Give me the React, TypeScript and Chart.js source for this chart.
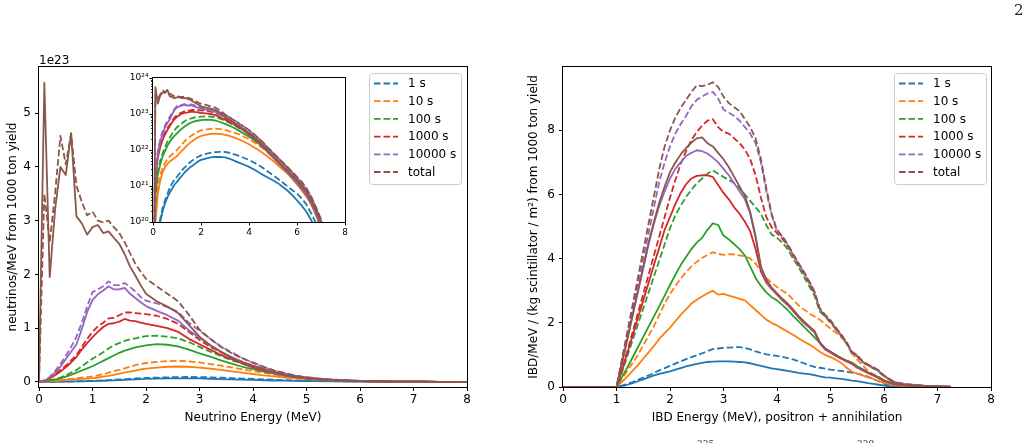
import { useEffect, useRef } from 'react';
import { Chart, registerables } from 'chart.js';

Chart.register(...registerables);

const FONT = "'DejaVu Sans', 'Liberation Sans', sans-serif";
const SERIF = "'DejaVu Serif', 'Liberation Serif', serif";

const SERIES_LABELS = ['1 s', '10 s', '100 s', '1000 s', '10000 s', 'total'];
const SERIES_COLORS = ['#1f77b4', '#ff7f0e', '#2ca02c', '#d62728', '#9467bd', '#8c564b'];

const NU_X_TICKS = [0, 1, 2, 3, 4, 5, 6, 7, 8];
const NU_Y_TICKS = [0, 1, 2, 3, 4, 5];
const INSET_X_TICKS = [0, 2, 4, 6, 8];
const INSET_Y_EXPONENTS = [20, 21, 22, 23, 24];
const IBD_X_TICKS = [0, 1, 2, 3, 4, 5, 6, 7, 8];
const IBD_Y_TICKS = [0, 2, 4, 6, 8];

// neutrino spectra are stored in units of 1e23 neutrinos/MeV
const NU_UNIT = 1e23;

// neutrino energy grid (MeV)
const NU_E = [0, 0.1, 0.2, 0.3, 0.4, 0.5, 0.6, 0.7, 0.8, 0.9, 1.0, 1.1, 1.2, 1.3, 1.4, 1.5, 1.6, 1.7, 1.8, 1.9, 2.0,
  2.2, 2.4, 2.6, 2.8, 3.0, 3.2, 3.4, 3.6, 3.8, 4.0, 4.2, 4.4, 4.6, 4.8, 5.0, 5.2, 5.4, 5.6, 5.8, 6.0,
  6.2, 6.4, 6.6, 6.8, 7.0, 7.2, 7.5, 8.0];

const nu1sSolid = [0, 0.0001, 0.0004, 0.001, 0.002, 0.0033, 0.0048, 0.0066, 0.0085, 0.011, 0.013,
  0.016, 0.019, 0.023, 0.027, 0.031, 0.035, 0.039, 0.044, 0.049, 0.053,
  0.058, 0.062, 0.064, 0.064, 0.062, 0.057, 0.05, 0.044, 0.039, 0.034,
  0.029, 0.024, 0.02, 0.017, 0.0145, 0.012, 0.0095, 0.0075, 0.0056, 0.004,
  0.0028, 0.0019, 0.0011, 0.0006, 0.0003, 0.0001, 0.00005, 0];
const nu1sDashed = [0, 0.0002, 0.0006, 0.0012, 0.0025, 0.004, 0.006, 0.009, 0.012, 0.015, 0.018,
  0.022, 0.027, 0.032, 0.037, 0.043, 0.049, 0.055, 0.061, 0.066, 0.071,
  0.078, 0.083, 0.087, 0.089, 0.088, 0.083, 0.076, 0.068, 0.06, 0.053,
  0.045, 0.038, 0.031, 0.025, 0.02, 0.016, 0.0125, 0.0098, 0.0077, 0.0062,
  0.0045, 0.003, 0.0017, 0.0009, 0.0004, 0.0002, 0.0001, 0];
const nu10sSolid = [0, 0.001, 0.006, 0.014, 0.024, 0.033, 0.041, 0.048, 0.054, 0.06, 0.067,
  0.08, 0.095, 0.11, 0.13, 0.15, 0.17, 0.19, 0.21, 0.23, 0.245,
  0.265, 0.28, 0.285, 0.28, 0.265, 0.245, 0.22, 0.195, 0.17, 0.145,
  0.12, 0.1, 0.08, 0.064, 0.05, 0.038, 0.029, 0.022, 0.016, 0.011,
  0.0075, 0.005, 0.003, 0.0015, 0.0007, 0.0003, 0.0001, 0];
const nu10sDashed = [0, 0.0015, 0.009, 0.02, 0.032, 0.044, 0.055, 0.066, 0.077, 0.088, 0.1,
  0.12, 0.14, 0.17, 0.2, 0.22, 0.25, 0.28, 0.31, 0.33, 0.35,
  0.37, 0.385, 0.39, 0.38, 0.36, 0.33, 0.3, 0.27, 0.23, 0.2,
  0.165, 0.135, 0.108, 0.085, 0.066, 0.05, 0.038, 0.028, 0.02, 0.015,
  0.0105, 0.007, 0.0044, 0.0022, 0.001, 0.0004, 0.0001, 0];
const nu100sSolid = [0, 0.005, 0.02, 0.04, 0.065, 0.095, 0.13, 0.17, 0.21, 0.25, 0.29,
  0.34, 0.39, 0.44, 0.49, 0.54, 0.58, 0.61, 0.64, 0.66, 0.68,
  0.7, 0.69, 0.66, 0.6, 0.53, 0.47, 0.4, 0.34, 0.28, 0.235,
  0.19, 0.15, 0.115, 0.087, 0.064, 0.047, 0.034, 0.025, 0.018, 0.013,
  0.009, 0.0058, 0.0034, 0.0016, 0.0007, 0.0003, 0.0001, 0];
const nu100sDashed = [0, 0.008, 0.025, 0.05, 0.08, 0.12, 0.17, 0.22, 0.29, 0.36, 0.43,
  0.49, 0.55, 0.62, 0.68, 0.72, 0.76, 0.79, 0.81, 0.83, 0.85,
  0.86, 0.84, 0.81, 0.74, 0.65, 0.56, 0.48, 0.4, 0.34, 0.28,
  0.23, 0.18, 0.14, 0.105, 0.078, 0.058, 0.043, 0.031, 0.022, 0.016,
  0.011, 0.007, 0.0042, 0.002, 0.0009, 0.0003, 0.0001, 0];
const nu1000sSolid = [0, 0.015, 0.06, 0.12, 0.19, 0.27, 0.36, 0.46, 0.6, 0.72, 0.83,
  0.93, 1.02, 1.08, 1.09, 1.12, 1.17, 1.14, 1.13, 1.1, 1.08,
  1.04, 1.0, 0.93, 0.8, 0.7, 0.6, 0.5, 0.42, 0.34, 0.27,
  0.21, 0.16, 0.12, 0.085, 0.062, 0.045, 0.033, 0.024, 0.017, 0.012,
  0.0085, 0.0055, 0.0032, 0.0017, 0.0008, 0.0003, 0.0001, 0];
const nu1000sDashed = [0, 0.02, 0.07, 0.14, 0.22, 0.3, 0.4, 0.5, 0.65, 0.8, 0.93,
  1.03, 1.1, 1.18, 1.19, 1.24, 1.29, 1.29, 1.28, 1.27, 1.26,
  1.23, 1.17, 1.08, 0.93, 0.78, 0.65, 0.55, 0.45, 0.37, 0.3,
  0.24, 0.18, 0.14, 0.105, 0.078, 0.058, 0.043, 0.032, 0.023, 0.016,
  0.011, 0.0075, 0.0045, 0.0022, 0.001, 0.0004, 0.0001, 0];
const nu10000sSolid = [0, 0.02, 0.08, 0.17, 0.28, 0.42, 0.56, 0.7, 0.98, 1.3, 1.52,
  1.63, 1.7, 1.78, 1.72, 1.72, 1.75, 1.64, 1.56, 1.48, 1.41,
  1.32, 1.24, 1.14, 0.96, 0.82, 0.68, 0.56, 0.46, 0.37, 0.3,
  0.23, 0.165, 0.12, 0.085, 0.062, 0.045, 0.033, 0.024, 0.017, 0.012,
  0.0085, 0.0058, 0.0034, 0.0018, 0.0009, 0.0003, 0.0001, 0];
const nu10000sDashed = [0, 0.025, 0.09, 0.2, 0.33, 0.48, 0.65, 0.84, 1.1, 1.4, 1.67,
  1.72, 1.78, 1.87, 1.8, 1.8, 1.84, 1.77, 1.68, 1.58, 1.51,
  1.46, 1.39, 1.3, 1.1, 0.95, 0.8, 0.66, 0.55, 0.44, 0.35,
  0.27, 0.21, 0.155, 0.113, 0.083, 0.061, 0.045, 0.033, 0.024, 0.017,
  0.012, 0.008, 0.0048, 0.0024, 0.0011, 0.0004, 0.0001, 0];
const nuTotalSolid = [0, 5.57, 1.95, 3.2, 4.0, 3.85, 4.63, 3.08, 2.95, 2.74, 2.88,
  2.92, 2.77, 2.8, 2.68, 2.57, 2.38, 2.15, 1.98, 1.8, 1.64,
  1.5, 1.4, 1.28, 1.06, 0.84, 0.68, 0.56, 0.45, 0.36, 0.29,
  0.235, 0.17, 0.125, 0.09, 0.065, 0.048, 0.035, 0.026, 0.019, 0.014,
  0.0098, 0.0065, 0.0038, 0.002, 0.001, 0.0004, 0.0001, 0];
const nuTotalDashed = [0, 3.5, 2.6, 3.5, 4.58, 4.05, 4.62, 3.65, 3.35, 3.1, 3.17,
  3.0, 2.97, 3.0, 2.88, 2.77, 2.6, 2.4, 2.2, 2.05, 1.92,
  1.78, 1.64, 1.5, 1.25, 0.97, 0.8, 0.65, 0.53, 0.44, 0.36,
  0.28, 0.21, 0.16, 0.115, 0.085, 0.062, 0.046, 0.034, 0.025, 0.018,
  0.013, 0.0085, 0.005, 0.0025, 0.0012, 0.0005, 0.0001, 0];

// IBD energy grid (MeV)
const IBD_E = [0, 1.0, 1.1, 1.2, 1.3, 1.4, 1.5, 1.6, 1.7, 1.8, 1.9, 2.0, 2.1, 2.2, 2.3, 2.4, 2.5, 2.6, 2.7, 2.8, 2.9, 3.0,
  3.1, 3.2, 3.3, 3.4, 3.5, 3.6, 3.7, 3.8, 3.9, 4.0, 4.1, 4.2, 4.3, 4.4, 4.5, 4.6, 4.7, 4.8, 4.9, 5.0,
  5.1, 5.2, 5.3, 5.4, 5.5, 5.6, 5.7, 5.8, 5.9, 6.0, 6.2, 6.4, 6.6, 6.8, 7.0, 7.25];

const ibd1sSolid = [0, 0,
  0.03, 0.07, 0.12, 0.18, 0.24, 0.3, 0.36, 0.41, 0.45, 0.49,
  0.54, 0.59, 0.64, 0.68, 0.72, 0.75, 0.78, 0.79, 0.8, 0.8,
  0.8, 0.79, 0.78, 0.77, 0.74, 0.7, 0.66, 0.62, 0.58, 0.56,
  0.53, 0.5, 0.47, 0.44, 0.42, 0.4, 0.37, 0.33, 0.3, 0.29,
  0.27, 0.25, 0.23, 0.2, 0.18, 0.15, 0.12, 0.1, 0.07, 0.04,
  0.01, 0, 0, 0, 0, 0];
const ibd1sDashed = [0, 0,
  0.04, 0.09, 0.15, 0.22, 0.29, 0.36, 0.44, 0.52, 0.59, 0.66,
  0.73, 0.8, 0.87, 0.93, 0.99, 1.05, 1.12, 1.18, 1.2, 1.22,
  1.23, 1.24, 1.24, 1.22, 1.17, 1.11, 1.06, 1.02, 0.99, 0.97,
  0.94, 0.9, 0.86, 0.8, 0.74, 0.68, 0.63, 0.6, 0.57, 0.54,
  0.52, 0.5, 0.47, 0.45, 0.42, 0.37, 0.32, 0.25, 0.18, 0.1,
  0.03, 0.01, 0.005, 0, 0, 0];
const ibd10sSolid = [0, 0,
  0.15, 0.32, 0.5, 0.68, 0.88, 1.08, 1.28, 1.5, 1.68, 1.85,
  2.05, 2.25, 2.42, 2.6, 2.72, 2.82, 2.92, 3.0, 2.88, 2.9,
  2.85, 2.8, 2.75, 2.7, 2.55, 2.4, 2.25, 2.1, 2.0, 1.92,
  1.82, 1.72, 1.63, 1.52, 1.42, 1.33, 1.22, 1.1, 1.0, 0.93,
  0.85, 0.75, 0.6, 0.48, 0.42, 0.36, 0.3, 0.25, 0.18, 0.13,
  0.06, 0.03, 0.015, 0.008, 0.004, 0];
const ibd10sDashed = [0, 0,
  0.25, 0.5, 0.75, 1.0, 1.3, 1.6, 1.9, 2.25, 2.6, 2.9,
  3.15, 3.38, 3.58, 3.76, 3.9, 4.02, 4.12, 4.2, 4.15, 4.12,
  4.14, 4.13, 4.1, 4.08, 4.0, 3.85, 3.6, 3.4, 3.25, 3.12,
  3.0, 2.9, 2.72, 2.55, 2.42, 2.3, 2.2, 2.1, 1.95, 1.82,
  1.7, 1.55, 1.4, 1.05, 0.85, 0.68, 0.5, 0.4, 0.32, 0.22,
  0.1, 0.05, 0.03, 0.015, 0.008, 0.003];
const ibd100sSolid = [0, 0,
  0.3, 0.6, 0.92, 1.24, 1.56, 1.88, 2.2, 2.52, 2.85, 3.18,
  3.5, 3.8, 4.05, 4.3, 4.5, 4.65, 4.9, 5.1, 5.05, 4.72,
  4.6, 4.45, 4.3, 4.1, 3.75, 3.4, 3.15, 2.95, 2.8, 2.7,
  2.55, 2.4, 2.22, 2.05, 1.88, 1.72, 1.55, 1.38, 1.2, 1.1,
  1.0, 0.9, 0.82, 0.76, 0.65, 0.55, 0.45, 0.37, 0.28, 0.18,
  0.09, 0.05, 0.03, 0.015, 0.008, 0.003];
const ibd100sDashed = [0, 0,
  0.45, 0.95, 1.45, 1.95, 2.45, 2.95, 3.45, 3.95, 4.45, 4.95,
  5.35, 5.65, 5.92, 6.15, 6.35, 6.5, 6.65, 6.75, 6.65, 6.55,
  6.45, 6.35, 6.2, 6.0, 5.8, 5.6, 5.4, 5.05, 4.75, 4.65,
  4.5, 4.3, 4.0, 3.75, 3.45, 3.15, 2.85, 2.35, 2.2, 2.0,
  1.8, 1.6, 1.35, 1.05, 0.95, 0.77, 0.67, 0.58, 0.48, 0.33,
  0.14, 0.08, 0.05, 0.03, 0.015, 0.005];
const ibd1000sSolid = [0, 0,
  0.5, 1.05, 1.6, 2.15, 2.7, 3.25, 3.8, 4.35, 4.9, 5.3,
  5.7, 6.05, 6.32, 6.5, 6.58, 6.6, 6.6, 6.55, 6.3, 6.05,
  5.85, 5.6, 5.4, 5.15, 4.85, 4.3, 3.6, 3.25, 3.05, 2.88,
  2.7, 2.55, 2.37, 2.18, 2.0, 1.86, 1.7, 1.36, 1.17, 1.07,
  0.97, 0.88, 0.8, 0.72, 0.6, 0.52, 0.43, 0.36, 0.28, 0.19,
  0.09, 0.055, 0.035, 0.02, 0.01, 0.004];
const ibd1000sDashed = [0, 0,
  0.55, 1.1, 1.7, 2.3, 2.9, 3.5, 4.1, 4.7, 5.3, 5.9,
  6.45, 6.95, 7.35, 7.7, 7.95, 8.15, 8.3, 8.35, 8.1, 7.95,
  7.9, 7.75, 7.6, 7.4, 7.1, 6.6, 5.9, 5.3, 4.98, 4.8,
  4.62, 4.4, 4.1, 3.82, 3.55, 3.25, 2.93, 2.41, 2.21, 2.04,
  1.81, 1.6, 1.37, 1.08, 0.97, 0.78, 0.68, 0.6, 0.5, 0.34,
  0.14, 0.085, 0.055, 0.03, 0.018, 0.008];
const ibd10000sSolid = [0, 0,
  0.7, 1.45, 2.2, 2.95, 3.7, 4.45, 5.1, 5.65, 6.1, 6.5,
  6.8, 7.0, 7.2, 7.3, 7.38, 7.35, 7.28, 7.15, 7.0, 6.8,
  6.6, 6.35, 6.1, 5.85, 5.4, 4.65, 3.7, 3.3, 3.07, 2.9,
  2.73, 2.58, 2.4, 2.2, 2.03, 1.88, 1.73, 1.39, 1.19, 1.09,
  0.99, 0.89, 0.81, 0.74, 0.61, 0.54, 0.44, 0.37, 0.29, 0.19,
  0.1, 0.06, 0.04, 0.025, 0.015, 0.005];
const ibd10000sDashed = [0, 0,
  0.8, 1.6, 2.4, 3.2, 4.0, 4.8, 5.6, 6.4, 7.0, 7.5,
  7.9, 8.2, 8.45, 8.75, 8.95, 9.05, 9.15, 9.2, 9.0, 8.65,
  8.55, 8.45, 8.3, 8.1, 7.9, 7.6, 7.0, 6.1, 5.35, 4.85,
  4.68, 4.43, 4.13, 3.85, 3.58, 3.28, 2.96, 2.43, 2.23, 2.06,
  1.83, 1.62, 1.38, 1.09, 0.98, 0.79, 0.69, 0.61, 0.51, 0.35,
  0.15, 0.09, 0.06, 0.035, 0.02, 0.01];
const ibdTotalSolid = [0, 0,
  0.75, 1.5, 2.25, 3.0, 3.75, 4.5, 5.15, 5.75, 6.25, 6.7,
  7.0, 7.25, 7.45, 7.62, 7.75, 7.78, 7.6, 7.5, 7.3, 7.1,
  6.85, 6.55, 6.25, 5.95, 5.45, 4.7, 3.75, 3.35, 3.1, 2.92,
  2.75, 2.6, 2.42, 2.22, 2.05, 1.9, 1.75, 1.4, 1.2, 1.1,
  1.0, 0.9, 0.82, 0.75, 0.62, 0.55, 0.45, 0.38, 0.3, 0.2,
  0.1, 0.06, 0.04, 0.025, 0.015, 0.005];
const ibdTotalDashed = [0, 0,
  0.85, 1.7, 2.55, 3.4, 4.25, 5.1, 5.95, 6.8, 7.5, 8.0,
  8.4, 8.7, 8.95, 9.2, 9.4, 9.38, 9.42, 9.5, 9.35, 9.05,
  8.85, 8.72, 8.6, 8.35, 8.1, 7.75, 7.1, 6.2, 5.4, 4.9,
  4.7, 4.45, 4.15, 3.87, 3.6, 3.3, 2.98, 2.45, 2.25, 2.08,
  1.85, 1.64, 1.4, 1.1, 0.99, 0.8, 0.7, 0.62, 0.52, 0.36,
  0.15, 0.09, 0.06, 0.035, 0.02, 0.01];

const NU_SOLID = [nu1sSolid, nu10sSolid, nu100sSolid, nu1000sSolid, nu10000sSolid, nuTotalSolid];
const NU_DASHED = [nu1sDashed, nu10sDashed, nu100sDashed, nu1000sDashed, nu10000sDashed, nuTotalDashed];
const IBD_SOLID = [ibd1sSolid, ibd10sSolid, ibd100sSolid, ibd1000sSolid, ibd10000sSolid, ibdTotalSolid];
const IBD_DASHED = [ibd1sDashed, ibd10sDashed, ibd100sDashed, ibd1000sDashed, ibd10000sDashed, ibdTotalDashed];

const DASH = [6.6, 2.9];
const LINE_W = 1.8;
const SUPERSCRIPT = '⁰¹²³⁴⁵⁶⁷⁸⁹';
const sup = (n: number) => String(n).split('').map((d) => SUPERSCRIPT[Number(d)]).join('');

function buildDatasets(xs: number[], solid: number[][], dashed: number[][], map: (v: number) => number = (v) => v) {
  const sets: any[] = [];
  SERIES_COLORS.forEach((color, i) => {
    [false, true].forEach((isDashed) => {
      const ys = isDashed ? dashed[i] : solid[i];
      sets.push({
        label: isDashed ? SERIES_LABELS[i] : '',
        data: xs.map((x, k) => ({ x, y: map(ys[k]) })),
        borderColor: color,
        backgroundColor: color,
        borderWidth: LINE_W,
        borderDash: isDashed ? DASH : [],
        borderJoinStyle: 'round',
        pointRadius: 0,
        tension: 0,
        fill: false,
      });
    });
  });
  // later series sit on top
  sets.forEach((s, i) => { s.order = sets.length - i; });
  return sets;
}

const framePlugin = (fillWhite: boolean) => ({
  id: 'frame',
  beforeDatasetsDraw(chart: any) {
    if (!fillWhite) return;
    const { ctx, chartArea: a } = chart;
    ctx.save();
    ctx.fillStyle = '#ffffff';
    ctx.fillRect(a.left, a.top, a.right - a.left, a.bottom - a.top);
    ctx.restore();
  },
  afterDatasetsDraw(chart: any) {
    const { ctx, chartArea: a } = chart;
    ctx.save();
    ctx.strokeStyle = '#000';
    ctx.lineWidth = 1;
    const l = Math.round(a.left) - 0.5;
    const t = Math.round(a.top) - 0.5;
    const r = Math.round(a.right) + 0.5;
    const b = Math.round(a.bottom) + 0.5;
    ctx.strokeRect(l, t, r - l, b - t);
    ctx.restore();
  },
});

type TextItem = { text: string; x: number; y: number; angle?: number; align?: CanvasTextAlign; baseline?: CanvasTextBaseline; size?: number };

const textPlugin = (items: TextItem[]) => ({
  id: 'texts',
  afterDraw(chart: any) {
    const { ctx } = chart;
    items.forEach((it) => {
      ctx.save();
      ctx.translate(it.x, it.y);
      if (it.angle) ctx.rotate(it.angle);
      ctx.fillStyle = '#000';
      ctx.font = `${it.size ?? 12}px ${FONT}`;
      ctx.textAlign = it.align ?? 'center';
      ctx.textBaseline = it.baseline ?? 'alphabetic';
      ctx.fillText(it.text, 0, 0);
      ctx.restore();
    });
  },
});

const legendPlugin = (box: { x: number; y: number; w: number; h: number; first: number; gap: number }) => ({
  id: 'boxLegend',
  afterDraw(chart: any) {
    const { ctx } = chart;
    ctx.save();
    ctx.beginPath();
    ctx.roundRect(box.x + 0.5, box.y + 0.5, box.w, box.h, 3);
    ctx.fillStyle = 'rgba(255,255,255,0.8)';
    ctx.fill();
    ctx.strokeStyle = '#cccccc';
    ctx.lineWidth = 1;
    ctx.stroke();
    SERIES_LABELS.forEach((label, i) => {
      const cy = box.y + box.first + i * box.gap;
      ctx.beginPath();
      ctx.setLineDash(DASH);
      ctx.strokeStyle = SERIES_COLORS[i];
      ctx.lineWidth = LINE_W;
      ctx.moveTo(box.x + 5, cy);
      ctx.lineTo(box.x + 29, cy);
      ctx.stroke();
      ctx.setLineDash([]);
      ctx.fillStyle = '#000';
      ctx.font = `12px ${FONT}`;
      ctx.textAlign = 'left';
      ctx.textBaseline = 'middle';
      ctx.fillText(label, box.x + 39, cy + 0.5);
    });
    ctx.restore();
  },
});

const logMinorTicks = {
  id: 'logMinorTicks',
  afterDraw(chart: any) {
    const { ctx, chartArea: a } = chart;
    const y = chart.scales.y;
    ctx.save();
    ctx.strokeStyle = '#000';
    ctx.lineWidth = 0.8;
    ctx.beginPath();
    for (let e = INSET_Y_EXPONENTS[0]; e < INSET_Y_EXPONENTS[INSET_Y_EXPONENTS.length - 1]; e++) {
      for (let k = 2; k <= 9; k++) {
        const py = Math.round(y.getPixelForValue(k * Math.pow(10, e))) + 0.5;
        ctx.moveTo(a.left, py);
        ctx.lineTo(a.left - 2, py);
      }
    }
    ctx.stroke();
    ctx.restore();
  },
};

function axis(opts: any) {
  const { min, max, ticks, type, fit, size, fontSize, tickLength, pad, label } = opts;
  return {
    type: type ?? 'linear',
    min,
    max,
    afterBuildTicks: (s: any) => { s.ticks = ticks.map((v: number) => ({ value: v })); },
    afterFit: (s: any) => { if (fit === 'w') s.width = size; else s.height = size; },
    ticks: {
      autoSkip: false,
      maxRotation: 0,
      color: '#000',
      padding: pad,
      font: { family: FONT, size: fontSize },
      callback: label ?? ((v: number) => String(v)),
    },
    grid: { drawOnChartArea: false, drawTicks: true, tickLength, color: '#000', lineWidth: 1 },
    border: { display: false },
  };
}

const baseOptions = (padding: any) => ({
  animation: false,
  responsive: false,
  events: [],
  layout: { padding },
  plugins: { legend: { display: false }, tooltip: { enabled: false } },
});

export default function App() {
  const leftRef = useRef<HTMLCanvasElement>(null);
  const insetRef = useRef<HTMLCanvasElement>(null);
  const rightRef = useRef<HTMLCanvasElement>(null);

  useEffect(() => {
    const left = new Chart(leftRef.current as HTMLCanvasElement, {
      type: 'line',
      data: { datasets: buildDatasets(NU_E, NU_SOLID, NU_DASHED) },
      options: {
        ...baseOptions({ top: 67, right: 13, left: 0, bottom: 0 }),
        scales: {
          x: axis({ min: 0, max: 8, ticks: NU_X_TICKS, fit: 'h', size: 443 - 387, fontSize: 12, tickLength: 4, pad: 2 }),
          y: axis({ min: -0.097, max: 5.862, ticks: NU_Y_TICKS, fit: 'w', size: 39, fontSize: 12, tickLength: 4, pad: 4 }),
        },
      } as any,
      plugins: [
        framePlugin(false),
        legendPlugin({ x: 369, y: 73, w: 92, h: 111, first: 10.5, gap: 17.7 }),
        textPlugin([
          { text: '1e23', x: 39, y: 64, align: 'left' },
          { text: 'neutrinos/MeV from 1000 ton yield', x: 12.5, y: 227, angle: -Math.PI / 2, baseline: 'middle' },
          { text: 'Neutrino Energy (MeV)', x: 253, y: 420.5 },
        ]),
      ],
    });

    const inset = new Chart(insetRef.current as HTMLCanvasElement, {
      type: 'line',
      data: { datasets: buildDatasets(NU_E, NU_SOLID, NU_DASHED, (v) => (v > 0 ? v * NU_UNIT : 1e15)) },
      options: {
        ...baseOptions({ top: 8, right: 10, left: 0, bottom: 0 }),
        scales: {
          x: axis({ min: 0, max: 8, ticks: INSET_X_TICKS, fit: 'h', size: 175 - 152, fontSize: 9, tickLength: 3.5, pad: 2 }),
          y: axis({
            type: 'logarithmic',
            min: Math.pow(10, INSET_Y_EXPONENTS[0]),
            max: Math.pow(10, INSET_Y_EXPONENTS[INSET_Y_EXPONENTS.length - 1]),
            ticks: INSET_Y_EXPONENTS.map((e) => Math.pow(10, e)),
            fit: 'w', size: 48, fontSize: 9, tickLength: 3.5, pad: 1,
            label: (v: number) => '10' + sup(Math.round(Math.log10(v))),
          }),
        },
      } as any,
      plugins: [framePlugin(true), logMinorTicks],
    });

    const right = new Chart(rightRef.current as HTMLCanvasElement, {
      type: 'line',
      data: { datasets: buildDatasets(IBD_E, IBD_SOLID, IBD_DASHED) },
      options: {
        ...baseOptions({ top: 67, right: 40, left: 0, bottom: 0 }),
        scales: {
          x: axis({ min: 0, max: 8, ticks: IBD_X_TICKS, fit: 'h', size: 443 - 387, fontSize: 12, tickLength: 4, pad: 2 }),
          y: axis({ min: 0, max: 9.975, ticks: IBD_Y_TICKS, fit: 'w', size: 83, fontSize: 12, tickLength: 4, pad: 4 }),
        },
      } as any,
      plugins: [
        framePlugin(false),
        legendPlugin({ x: 894 - 480, y: 73, w: 92, h: 111, first: 10.5, gap: 17.7 }),
        textPlugin([
          { text: 'IBD/MeV / (kg scintillator / m²) from 1000 ton yield', x: 534 - 480, y: 227, angle: -Math.PI / 2, baseline: 'middle' },
          { text: 'IBD Energy (MeV), positron + annihilation', x: 777 - 480, y: 420.5 },
        ]),
      ],
    });

    return () => {
      left.destroy();
      inset.destroy();
      right.destroy();
    };
  }, []);

  return (
    <div style={{ position: 'fixed', left: 0, top: 0, width: 1031, height: 443, background: '#ffffff', overflow: 'hidden' }}>
      <canvas ref={leftRef} width={480} height={443} style={{ position: 'absolute', left: 0, top: 0 }} />
      <canvas ref={rightRef} width={551} height={443} style={{ position: 'absolute', left: 480, top: 0 }} />
      <canvas ref={insetRef} width={250} height={175} style={{ position: 'absolute', left: 105, top: 70 }} />
      <div style={{ position: 'absolute', left: 1014, top: 1, font: `15px ${SERIF}`, color: '#222' }}>2</div>
      <div style={{ position: 'absolute', left: 697, top: 439, font: `9px ${SERIF}`, color: '#333', lineHeight: '10px' }}>235</div>
      <div style={{ position: 'absolute', left: 857, top: 439, font: `9px ${SERIF}`, color: '#333', lineHeight: '10px' }}>239</div>
    </div>
  );
}
